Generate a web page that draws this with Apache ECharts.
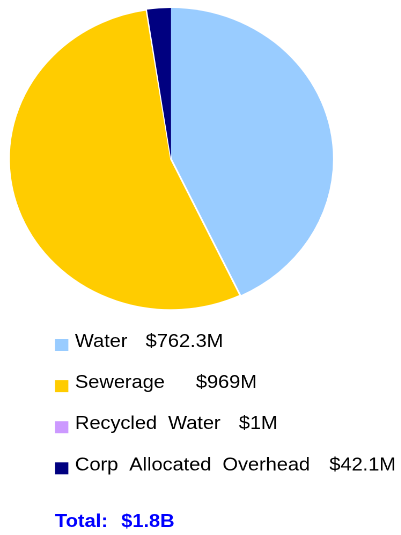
<!DOCTYPE html>
<html>
<head>
<meta charset="utf-8">
<script src="https://cdn.jsdelivr.net/npm/echarts@6/dist/echarts.min.js"></script>
<style>
  html, body { margin: 0; padding: 0; background: #fff; overflow: hidden; }
  /* the chart is drawn on a narrower canvas and stretched sideways, so the pie reads as an ellipse */
  #chart { width: 374px; height: 535px; transform: scaleX(1.0728); transform-origin: 0 0; }
</style>
</head>
<body>
<div id="chart"></div>
<script>
// Spend by service, $ millions
const categories = ['Water', 'Sewerage', 'Recycled Water', 'Corp Allocated Overhead'];
const values = [762.3, 969, 1, 42.1];
const valueLabels = ['$762.3M', '$969M', '$1M', '$42.1M'];
const colors = ['#99CCFF', '#FFCC00', '#CC99FF', '#000080'];

// layout / styling
const FONT = 'Arial, "Liberation Sans", sans-serif';
const FONT_SIZE = 18.6;
const sliceBorder = [0, 1.6, 0.8, 0];
const legendIconX = 51.3, legendTextX = 69.9;
const iconTop = 339, textMid = 341.9, rowStep = 41.1;
const valueGaps = [17, 29, 17, 18];

const total = values.reduce((a, b) => a + b, 0);
const totalValue = '$' + (total / 1000).toFixed(1) + 'B';

const chart = echarts.init(document.getElementById('chart'), null, { renderer: 'canvas', devicePixelRatio: 2 });

const legendGraphics = [];
categories.forEach((name, i) => {
  legendGraphics.push({
    type: 'rect',
    silent: true,
    shape: { x: legendIconX, y: iconTop + i * rowStep, width: 12.4, height: 12 },
    style: { fill: colors[i] }
  });
  legendGraphics.push({
    type: 'text',
    silent: true,
    x: legendTextX,
    y: textMid + i * rowStep,
    style: {
      text: '{n|' + name.split(' ').join('  ') + '}{v|' + valueLabels[i] + '}',
      verticalAlign: 'middle',
      align: 'left',
      fill: '#000',
      font: FONT_SIZE + 'px ' + FONT,
      rich: {
        n: { fontSize: FONT_SIZE, fontFamily: FONT, fill: '#000' },
        v: { fontSize: FONT_SIZE, fontFamily: FONT, fill: '#000', padding: [0, 0, 0, valueGaps[i]] }
      }
    }
  });
});

legendGraphics.push({
  type: 'text',
  silent: true,
  x: legendIconX,
  y: 521.7,
  style: {
    text: '{t|Total:}{v|' + totalValue + '}',
    verticalAlign: 'middle',
    align: 'left',
    fill: '#0000FF',
    font: 'bold ' + FONT_SIZE + 'px ' + FONT,
    rich: {
      t: { fontSize: FONT_SIZE, fontFamily: FONT, fontWeight: 'bold', fill: '#0000FF' },
      v: { fontSize: FONT_SIZE, fontFamily: FONT, fontWeight: 'bold', fill: '#0000FF', padding: [0, 0, 0, 12.5] }
    }
  }
});

chart.setOption({
  animation: false,
  backgroundColor: '#fff',
  series: [{
    type: 'pie',
    center: [159.4, 159],
    radius: 151,
    startAngle: 90,
    clockwise: true,
    silent: true,
    label: { show: false },
    labelLine: { show: false },
    emphasis: { disabled: true },
    data: categories.map((name, i) => ({
      name: name,
      value: values[i],
      itemStyle: { color: colors[i], borderColor: '#fff', borderWidth: sliceBorder[i] }
    }))
  }],
  graphic: legendGraphics
});
</script>
</body>
</html>
